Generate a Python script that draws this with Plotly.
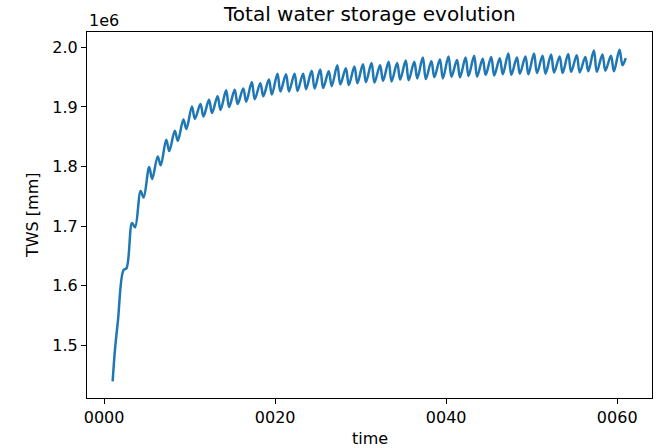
import plotly.graph_objects as go

# ---- data (values in units of 1e6 mm) ----
start_time = 1.0
start_value = 1.439
end_time = 61.0
end_value = 1.982

years = list(range(1, 61))
peak_phase = 0.27     # fraction of year at which the seasonal maximum occurs
trough_phase = 0.62   # fraction of year at which the seasonal minimum occurs

tws_peak = [
    1.492, 1.626, 1.705, 1.759, 1.799, 1.817, 1.845, 1.860, 1.879, 1.901,
    1.905, 1.912, 1.918, 1.928, 1.929, 1.931, 1.942, 1.940, 1.946, 1.956,
    1.955, 1.956, 1.956, 1.961, 1.963, 1.960, 1.970, 1.965, 1.968, 1.972,
    1.974, 1.970, 1.976, 1.974, 1.978, 1.976, 1.983, 1.977, 1.980, 1.985,
    1.979, 1.983, 1.986, 1.981, 1.984, 1.982, 1.990, 1.983, 1.985, 1.990,
    1.986, 1.988, 1.985, 1.989, 1.987, 1.984, 1.995, 1.988, 1.986, 1.996,
]
tws_trough = [
    1.541, 1.629, 1.698, 1.748, 1.779, 1.802, 1.826, 1.843, 1.863, 1.880,
    1.884, 1.890, 1.895, 1.900, 1.905, 1.909, 1.913, 1.918, 1.921, 1.926,
    1.926, 1.927, 1.930, 1.931, 1.932, 1.935, 1.938, 1.937, 1.940, 1.942,
    1.941, 1.944, 1.943, 1.946, 1.945, 1.948, 1.947, 1.950, 1.948, 1.951,
    1.950, 1.952, 1.951, 1.954, 1.953, 1.955, 1.954, 1.956, 1.955, 1.957,
    1.956, 1.958, 1.957, 1.959, 1.958, 1.960, 1.959, 1.961, 1.960, 1.970,
]

x_tick_vals = [0, 20, 40, 60]
x_tick_text = ["0000", "0020", "0040", "0060"]
y_tick_vals_1e6 = [1.5, 1.6, 1.7, 1.8, 1.9, 2.0]
y_tick_text = ["1.5", "1.6", "1.7", "1.8", "1.9", "2.0"]

# ---- assemble series ----
t = [start_time]
v = [start_value]
for yr, pk, tr in zip(years, tws_peak, tws_trough):
    t += [yr + peak_phase, yr + trough_phase]
    v += [pk, tr]
t.append(end_time)
v.append(end_value)
tws_mm = [val * 1e6 for val in v]

FONT = "DejaVu Sans"

fig = go.Figure()
fig.add_trace(go.Scatter(
    x=t, y=tws_mm, mode="lines",
    line=dict(color="#1f77b4", width=2.5, shape="spline", smoothing=1.0),
    hoverinfo="skip", showlegend=False,
))

fig.update_layout(
    width=658, height=448,
    margin=dict(l=87, r=6, t=32, b=50),
    paper_bgcolor="white", plot_bgcolor="white",
    font=dict(family=FONT, size=16, color="black"),
    showlegend=False,
)

fig.update_xaxes(
    range=[-2.0, 64.07],
    tickmode="array", tickvals=x_tick_vals, ticktext=x_tick_text,
    ticks="outside", ticklen=5, tickwidth=1, tickcolor="black",
    showline=True, linecolor="black", linewidth=1, mirror=True,
    showgrid=False, zeroline=False,
    tickfont=dict(family=FONT, size=16, color="black"),
)
fig.update_yaxes(
    range=[1.411e6, 2.026e6],
    tickmode="array", tickvals=[val * 1e6 for val in y_tick_vals_1e6], ticktext=y_tick_text,
    ticks="outside", ticklen=5, tickwidth=1, tickcolor="black",
    showline=True, linecolor="black", linewidth=1, mirror=True,
    showgrid=False, zeroline=False,
    tickfont=dict(family=FONT, size=16, color="black"),
)

fig.add_annotation(text="Total water storage evolution", xref="paper", yref="paper",
                   x=0.5, y=1, xanchor="center", yanchor="bottom", yshift=4,
                   showarrow=False, font=dict(family=FONT, size=20, color="black"))
fig.add_annotation(text="1e6", xref="paper", yref="paper",
                   x=0, y=1, xanchor="left", yanchor="bottom", yshift=0,
                   showarrow=False, font=dict(family=FONT, size=16, color="black"))
fig.add_annotation(text="time", xref="paper", yref="paper",
                   x=0.5, y=0, xanchor="center", yanchor="top", yshift=-29,
                   showarrow=False, font=dict(family=FONT, size=16, color="black"))
fig.add_annotation(text="TWS [mm]", xref="paper", yref="paper",
                   x=(32 - 87) / 565, y=0.5, xanchor="center", yanchor="middle",
                   textangle=-90,
                   showarrow=False, font=dict(family=FONT, size=16, color="black"))

fig.write_html("out.html")
